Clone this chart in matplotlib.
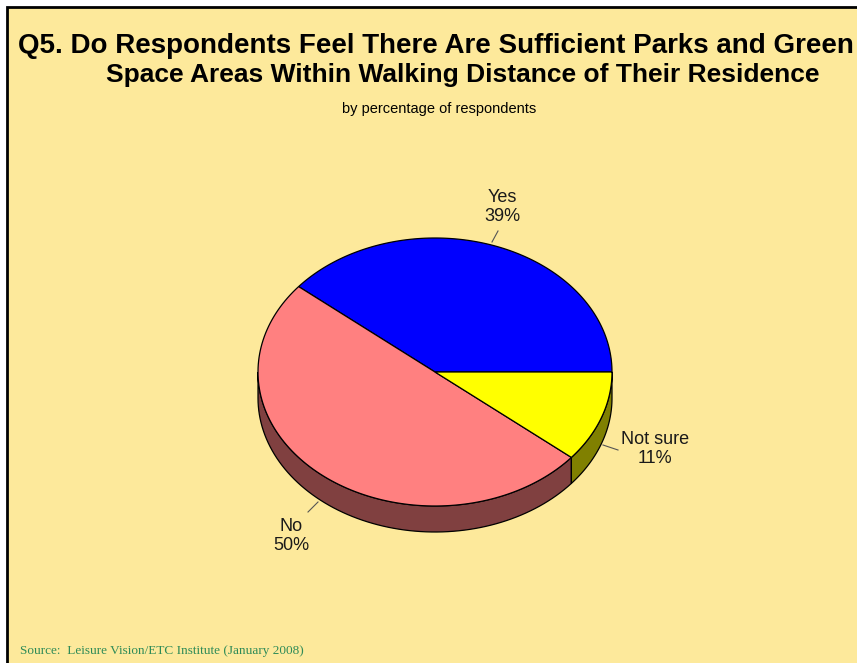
import numpy as np
import matplotlib.pyplot as plt
from matplotlib.patches import Polygon, Rectangle

# data
labels = ["Yes", "No", "Not sure"]
values = [39, 50, 11]
top_colors = ["#0000FF", "#FF8080", "#FFFF00"]
side_colors = ["#000080", "#804040", "#808000"]

title1 = "Q5. Do Respondents Feel There Are Sufficient Parks and Green"
title2 = "Space Areas Within Walking Distance of Their Residence"
subtitle = "by percentage of respondents"
source = "Source:  Leisure Vision/ETC Institute (January 2008)"

W, H = 857, 663
fig = plt.figure(figsize=(W / 100, H / 100), dpi=100)
fig.patch.set_facecolor("white")
ax = fig.add_axes([0, 0, 1, 1])
ax.set_xlim(0, W)
ax.set_ylim(H, 0)
ax.axis("off")

bg = "#FDE99B"
ax.add_patch(Rectangle((7, 7), W, H, facecolor=bg, edgecolor="black", lw=2))

# pie geometry (pixels)
cx, cy = 435, 372
a, b = 177, 134
depth = 26


def pt(theta, dy=0):
    return cx + a * np.cos(theta), cy - b * np.sin(theta) + dy


fracs = np.array(values) / sum(values)
edges = np.concatenate([[0], np.cumsum(fracs)]) * 2 * np.pi

# side faces (front half only, angles between pi and 2pi)
for i in range(len(values)):
    t1, t2 = edges[i], edges[i + 1]
    lo, hi = max(t1, np.pi), min(t2, 2 * np.pi)
    if hi <= lo:
        continue
    ts = np.linspace(lo, hi, 80)
    x, y = pt(ts)
    xb, yb = pt(ts[::-1], depth)
    poly = np.column_stack([np.concatenate([x, xb]), np.concatenate([y, yb])])
    ax.add_patch(Polygon(poly, closed=True, facecolor=side_colors[i],
                         edgecolor="black", lw=0.9, zorder=2))

# top faces
for i in range(len(values)):
    ts = np.linspace(edges[i], edges[i + 1], 120)
    x, y = pt(ts)
    poly = np.column_stack([np.concatenate([[cx], x]), np.concatenate([[cy], y])])
    ax.add_patch(Polygon(poly, closed=True, facecolor=top_colors[i],
                         edgecolor="black", lw=0.9, zorder=3))

# labels
lab_pos = [(502, 207), (291, 536), (655, 449)]
leaders = [((498, 231), (492, 242)), ((318, 502), (308, 512)), ((603, 445), (618, 450))]
for i in range(len(values)):
    ax.text(lab_pos[i][0], lab_pos[i][1], f"{labels[i]}\n{values[i]}%",
            ha="center", va="center", fontsize=13, family="Liberation Sans",
            color="#1a1a1a", linespacing=1.1)
    (x1, y1), (x2, y2) = leaders[i]
    ax.plot([x1, x2], [y1, y2], color="#555555", lw=0.8)

ax.text(18, 46, title1, ha="left", va="center", fontsize=20, fontweight="bold",
        family="Liberation Sans", color="black")
ax.text(463, 75, title2, ha="center", va="center", fontsize=19, fontweight="bold",
        family="Liberation Sans", color="black")
ax.text(439, 109, subtitle, ha="center", va="center", fontsize=10.5,
        family="Liberation Sans", color="black")
ax.text(20, 651, source, ha="left", va="center", fontsize=9.5,
        family="Liberation Serif", color="#2E8B57")

fig.savefig("out.png", dpi=100, facecolor=fig.get_facecolor())
